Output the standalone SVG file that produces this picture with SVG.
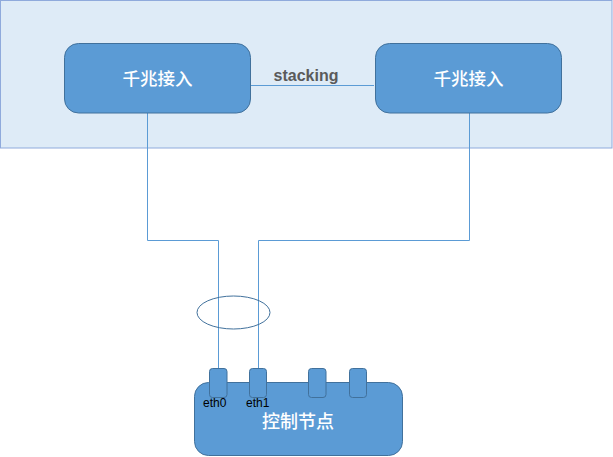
<svg xmlns="http://www.w3.org/2000/svg" width="613" height="457" viewBox="0 0 613 457">
<style>
.node{fill:#5B9BD5;stroke:#41719C;stroke-width:1}
.lbl{fill:#FFFFFF;font-family:"Noto Sans CJK SC","Liberation Sans",sans-serif;font-weight:500;text-anchor:middle}
.wire{fill:none;stroke:#5B9BD5;stroke-width:1}
.eth{fill:#000000;font-family:"Liberation Sans",sans-serif;font-size:12px}
</style>
<rect x="0.5" y="0.5" width="611.5" height="147.5" fill="#DEEBF7" stroke="#8FAADC" stroke-width="1"/>
<g id="connectors">
<path class="wire" d="M251,85.5 H374"/>
<path class="wire" d="M147.5,113 V240.5 H218.5 V368"/>
<path class="wire" d="M469.5,113 V240.5 H258.5 V368"/>
</g>
<text x="306" y="81" font-family="Liberation Sans,sans-serif" font-size="16" font-weight="bold" fill="#5A5A5A" text-anchor="middle">stacking</text>
<g id="sw1">
<rect class="node" x="64.5" y="43.5" width="186" height="69.5" rx="14"/>
<text class="lbl" x="157.5" y="85" font-size="17.5">千兆接入</text>
</g>
<g id="sw2">
<rect class="node" x="375.5" y="43.5" width="186" height="69.5" rx="14"/>
<text class="lbl" x="468.5" y="85" font-size="17.5">千兆接入</text>
</g>
<g id="bond">
<ellipse cx="233.5" cy="312.5" rx="36.5" ry="16.5" fill="none" stroke="#41719C" stroke-width="1"/>
</g>
<g id="ctrl">
<rect class="node" x="194.5" y="382.5" width="208" height="73" rx="14"/>
<rect class="node" x="209.5" y="368.5" width="17.5" height="29" rx="3"/>
<rect class="node" x="249.5" y="368.5" width="17" height="29" rx="3"/>
<rect class="node" x="308.5" y="368.5" width="17.5" height="29" rx="3"/>
<rect class="node" x="349.5" y="368.5" width="17" height="29" rx="3"/>
<text class="eth" x="203" y="407">eth0</text>
<text class="eth" x="246" y="407">eth1</text>
<text class="lbl" x="298" y="428" font-size="18">控制节点</text>
</g>
</svg>
